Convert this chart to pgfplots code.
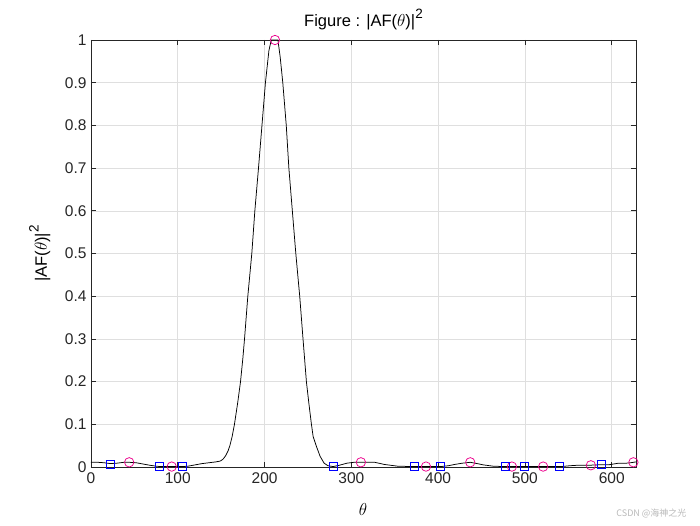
\documentclass[border=0pt]{standalone}
\usepackage{pgfplots}
\pgfplotsset{compat=1.18}
\usepackage{fontspec}
\setmainfont{Liberation Sans}
\newfontfamily\cjk{Noto Sans CJK SC}

\definecolor{axgray}{RGB}{38,38,38}
\definecolor{gridgray}{RGB}{223,223,223}
\newcommand{\sq}{\raisebox{0.95ex}{\fontsize{13.5}{13.5}\selectfont 2}}

\begin{document}
\begin{tikzpicture}
\path[use as bounding box] (-91pt,-58pt) rectangle (609pt,467pt);
\begin{axis}[
    at={(0,0)}, anchor=south west,
    scale only axis,
    width=545pt, height=427pt,
    xmin=0, xmax=628,
    ymin=0, ymax=1,
    xtick={0,100,...,600},
    ytick={0,0.1,...,1},
    grid=major,
    major grid style={gridgray, line width=0.6pt},
    axis line style={axgray, line width=0.7pt},
    tick style={axgray, line width=0.7pt},
    tick align=inside,
    major tick length=5pt,
    ticklabel style={font=\fontsize{15.5}{17}\selectfont, text=axgray},
    /pgf/number format/assume math mode=true,
    xticklabel style={yshift=-2pt},
    yticklabel style={xshift=-1pt},
    title={Figure : |AF($\theta$)|\sq},
    title style={font=\fontsize{16.5}{18}\selectfont, at={(axis description cs:0.5,1)}, anchor=south, yshift=0pt},
    xlabel={$\theta$},
    xlabel style={font=\fontsize{17}{19}\selectfont, at={(axis description cs:0.499,-0.1)}, anchor=center},
    ylabel={|AF($\theta$)|\sq},
    ylabel style={font=\fontsize{16.5}{18}\selectfont, at={(axis description cs:-0.094,0.5)}, anchor=center},
    clip=false,
]
% array factor curve
\addplot[black, line width=0.75pt] coordinates {
(0,0.011) (8,0.011) (15,0.010) (22,0.008) (30,0.009) (38,0.011) (44,0.011)
(52,0.010) (60,0.007) (68,0.004) (75,0.002) (80,0.001) (90,0.001) (100,0.001)
(106,0.001) (112,0.002) (120,0.005) (128,0.008) (136,0.010) (144,0.012)
(149,0.014) (152,0.018) (155,0.026) (158,0.038) (160,0.050) (162.6,0.071)
(165.3,0.100) (169,0.150) (172.3,0.200) (175,0.255) (176.9,0.300)
(180.7,0.400) (185.3,0.500) (188.8,0.600) (193,0.700) (197,0.800)
(201,0.900) (205,0.975) (207.7,1.000) (212,1.000) (215.4,1.000)
(218,0.960) (221,0.900) (225,0.800) (228,0.700) (232,0.600) (236,0.500)
(240.5,0.400) (244.3,0.300) (248.2,0.200) (251,0.150) (254,0.100)
(256,0.071) (259.8,0.048) (264,0.025) (268.6,0.009) (273,0.003)
(279,0.001) (286,0.004) (295,0.009) (303,0.011) (311,0.011) (327,0.011)
(338,0.006) (353,0.002) (370,0.001) (390,0.001) (403,0.001) (412,0.003)
(419,0.006) (428,0.009) (437,0.011) (445,0.008) (452,0.005) (463,0.002)
(476,0.001) (500,0.001) (520,0.001) (542,0.001) (552,0.003) (560,0.004)
(573,0.004) (583,0.005) (596,0.005) (602,0.007) (608,0.009) (617,0.009)
(622,0.010) (628,0.012)
};
% maxima
\addplot[only marks, mark=o, mark size=4.7pt, magenta, mark options={line width=0.75pt}] coordinates {
(44,0.011) (93,0.001) (212,1) (311,0.011) (386,0.001) (437,0.011)
(485,0.001) (521,0.001) (576,0.004) (625,0.011)
};
% minima
\addplot[only marks, mark=square, mark size=4pt, blue, mark options={line width=0.75pt}] coordinates {
(22,0.007) (79,0.001) (105,0.001) (279,0.001) (373,0.001) (403,0.001)
(477,0.001) (499,0.001) (540,0.001) (588,0.005)
};
\end{axis}
\node[anchor=east, text=gray!55, font=\cjk\fontsize{9}{10}\selectfont] at (599pt,-46pt) {CSDN @海神之光};
\end{tikzpicture}
\end{document}
